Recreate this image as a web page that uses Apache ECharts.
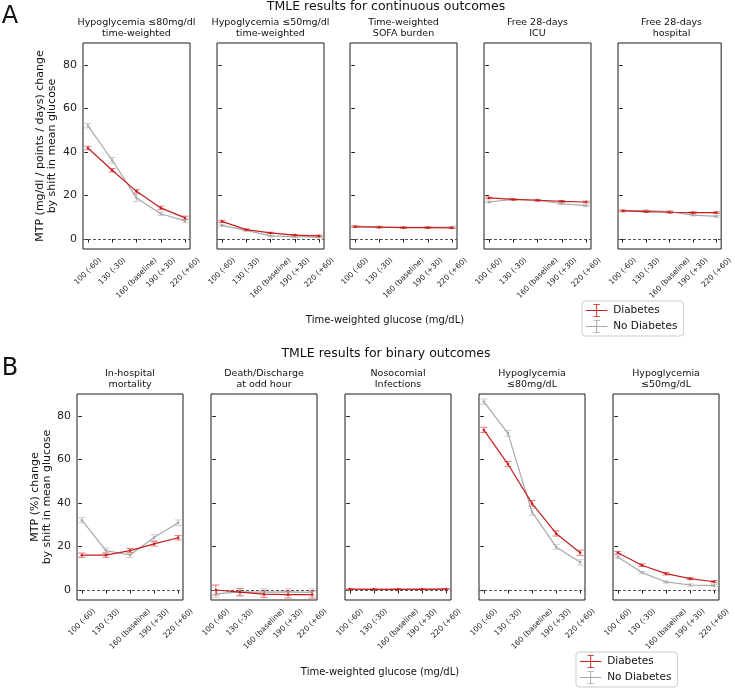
<!DOCTYPE html>
<html>
<head>
<meta charset="utf-8">
<script src="https://cdn.jsdelivr.net/npm/echarts@6/dist/echarts.min.js"></script>
<style>html,body{margin:0;padding:0;background:#fff}#c{width:735px;height:688px}</style>
</head>
<body>
<div id="c"></div>
<script>
// ---------- tick labels / categories ----------
const glucoseLabels = ["100 (-60)", "130 (-30)", "160 (baseline)", "190 (+30)", "220 (+60)"];
const yTicks = [0, 20, 40, 60, 80];

// ---------- panel titles ----------
const contTitles = ["Hypoglycemia \u226480mg/dl\ntime-weighted", "Hypoglycemia \u226450mg/dl\ntime-weighted",
  "Time-weighted\nSOFA burden", "Free 28-days\nICU", "Free 28-days\nhospital"];
const binTitles = ["In-hospital\nmortality", "Death/Discharge\nat odd hour", "Nosocomial\nInfections",
  "Hypoglycemia\n\u226480mg/dL", "Hypoglycemia\n\u226450mg/dL"];

// ---------- A: continuous outcomes (value, CI half-width) ----------
const hypo80tw_diab = [41.8, 31.6, 21.9, 14.3, 9.7];
const hypo80tw_diab_err = [0.8, 0.8, 0.8, 0.8, 0.8];
const hypo80tw_nodiab = [52.1, 36.2, 18.9, 11.6, 8.3];
const hypo80tw_nodiab_err = [1.0, 1.3, 1.6, 0.8, 0.8];

const hypo50tw_diab = [8.1, 4.3, 2.8, 1.8, 1.4];
const hypo50tw_diab_err = [0.5, 0.3, 0.3, 0.3, 0.4];
const hypo50tw_nodiab = [6.3, 4.0, 1.4, 1.1, 0.9];
const hypo50tw_nodiab_err = [0.5, 0.4, 0.4, 0.4, 0.4];

const sofa_diab = [5.6, 5.4, 5.2, 5.2, 5.1];
const sofa_diab_err = [0.3, 0.3, 0.3, 0.3, 0.3];
const sofa_nodiab = [5.9, 5.6, 5.3, 5.4, 5.5];
const sofa_nodiab_err = [0.4, 0.4, 0.4, 0.4, 0.4];

const icu_diab = [18.9, 18.2, 17.8, 17.3, 17.0];
const icu_diab_err = [0.4, 0.4, 0.4, 0.4, 0.4];
const icu_nodiab = [17.0, 18.2, 17.8, 16.2, 15.3];
const icu_nodiab_err = [0.4, 0.4, 0.4, 0.4, 0.4];

const hosp_diab = [12.9, 12.6, 12.3, 12.1, 12.1];
const hosp_diab_err = [0.4, 0.4, 0.4, 0.4, 0.4];
const hosp_nodiab = [13.0, 13.0, 12.6, 11.0, 10.4];
const hosp_nodiab_err = [0.4, 0.4, 0.4, 0.4, 0.4];

// ---------- B: binary outcomes (value, CI half-width) ----------
const mort_diab = [16.0, 16.0, 18.1, 21.2, 24.0];
const mort_diab_err = [1.0, 1.0, 1.0, 1.0, 1.0];
const mort_nodiab = [32.1, 18.1, 16.1, 24.1, 30.9];
const mort_nodiab_err = [1.2, 1.2, 1.2, 1.3, 1.3];

const odd_diab = [0.0, -1.0, -1.9, -2.1, -2.1];
const odd_diab_err = [2.3, 1.7, 1.6, 1.6, 1.6];
const odd_nodiab = [-1.8, -0.9, -1.0, -0.9, -1.1];
const odd_nodiab_err = [1.6, 1.6, 1.6, 1.6, 1.6];

const noso_diab = [0.4, 0.3, 0.3, 0.3, 0.4];
const noso_diab_err = [0.2, 0.2, 0.2, 0.2, 0.2];
const noso_nodiab = [0.3, 0.3, 0.4, 0.4, 0.5];
const noso_nodiab_err = [0.2, 0.2, 0.2, 0.2, 0.2];

const hypo80_diab = [73.6, 57.9, 39.8, 26.0, 17.1];
const hypo80_diab_err = [1.2, 1.2, 1.3, 1.2, 1.2];
const hypo80_nodiab = [86.6, 72.0, 35.9, 19.8, 12.7];
const hypo80_nodiab_err = [1.2, 1.3, 1.5, 1.2, 1.2];

const hypo50_diab = [17.1, 11.4, 7.5, 5.2, 3.8];
const hypo50_diab_err = [0.6, 0.6, 0.6, 0.5, 0.5];
const hypo50_nodiab = [15.2, 8.0, 3.7, 2.3, 2.0];
const hypo50_nodiab_err = [0.6, 0.5, 0.5, 0.5, 0.5];

const panels = [
  [hypo80tw_diab, hypo80tw_diab_err, hypo80tw_nodiab, hypo80tw_nodiab_err],
  [hypo50tw_diab, hypo50tw_diab_err, hypo50tw_nodiab, hypo50tw_nodiab_err],
  [sofa_diab, sofa_diab_err, sofa_nodiab, sofa_nodiab_err],
  [icu_diab, icu_diab_err, icu_nodiab, icu_nodiab_err],
  [hosp_diab, hosp_diab_err, hosp_nodiab, hosp_nodiab_err],
  [mort_diab, mort_diab_err, mort_nodiab, mort_nodiab_err],
  [odd_diab, odd_diab_err, odd_nodiab, odd_nodiab_err],
  [noso_diab, noso_diab_err, noso_nodiab, noso_nodiab_err],
  [hypo80_diab, hypo80_diab_err, hypo80_nodiab, hypo80_nodiab_err],
  [hypo50_diab, hypo50_diab_err, hypo50_nodiab, hypo50_nodiab_err]
];

// ---------- layout ----------
const FONT = "'DejaVu Sans', sans-serif";
const RED = '#c81e1e', RED_ERR = '#e27a7a';
const GRAY = '#a8a8a8', GRAY_ERR = '#cdcdcd';
const topLefts = [83, 217, 350, 484, 618];
const botLefts = [77, 211, 345, 479, 613];
const rowTop = [43, 394];
const panelW = 107, panelH = 206;
const TICK_FS = 7.5;

// rotated tick labels centred under their tick (matplotlib style)
const mctx = document.createElement('canvas').getContext('2d');
mctx.font = TICK_FS + "px 'DejaVu Sans'";
const tickRich = {};
glucoseLabels.forEach((lab, i) => {
  const w = mctx.measureText(lab).width;
  tickRich['r' + i] = {fontSize: TICK_FS, fontFamily: FONT, color: '#222', padding: [w / 2, w / 2, 0, 0]};
});

const chart = echarts.init(document.getElementById('c'), null, {renderer: 'canvas'});

const grids = [], xAxes = [], yAxes = [], series = [];
for (let k = 0; k < 10; k++) {
  const row = k < 5 ? 0 : 1, col = k % 5;
  const left = row === 0 ? topLefts[col] : botLefts[col];
  grids.push({left: left, top: rowTop[row], width: row === 0 ? panelW : panelW - 1, height: panelH,
    show: true, borderColor: '#1a1a1a', borderWidth: 1, backgroundColor: 'transparent'});
  xAxes.push({type: 'value', gridIndex: k, min: -0.2, max: 4.2,
    axisLine: {show: false}, splitLine: {show: false},
    axisTick: {show: true, customValues: [0, 1, 2, 3, 4], length: 3.5, lineStyle: {color: '#1a1a1a'}},
    axisLabel: {show: true, customValues: [0, 1, 2, 3, 4], rotate: 45, margin: 10,
      align: 'center', verticalAlign: 'middle',
      fontSize: TICK_FS, fontFamily: FONT, color: '#222', rich: tickRich,
      formatter: v => { const i = Math.round(v); return '{r' + i + '|' + glucoseLabels[i] + '}'; }}
  });
  yAxes.push({type: 'value', gridIndex: k, min: -4.6, max: 90.1,
    axisLine: {show: false}, splitLine: {show: false},
    axisTick: {show: true, customValues: yTicks, length: 3.5, lineStyle: {color: '#1a1a1a'}},
    axisLabel: {show: col === 0, customValues: yTicks, fontSize: 11, fontFamily: FONT, color: '#222', margin: 6}
  });
  const [dv, de, nv, ne] = panels[k];
  const mk = (vals, errs) => vals.map((v, i) => [i, v - errs[i], v + errs[i]]);
  const errRender = (color) => function (params, api) {
    const x = api.value(0), lo = api.value(1), hi = api.value(2);
    const p1 = api.coord([x, lo]), p2 = api.coord([x, hi]);
    const w = 3.5, st = {stroke: color, lineWidth: 1};
    return {type: 'group', children: [
      {type: 'line', shape: {x1: p1[0], y1: p1[1], x2: p2[0], y2: p2[1]}, style: st},
      {type: 'line', shape: {x1: p1[0] - w, y1: p1[1], x2: p1[0] + w, y2: p1[1]}, style: st},
      {type: 'line', shape: {x1: p2[0] - w, y1: p2[1], x2: p2[0] + w, y2: p2[1]}, style: st}
    ]};
  };
  // zero reference line
  series.push({type: 'line', name: 'zero', xAxisIndex: k, yAxisIndex: k, data: [], silent: true,
    markLine: {silent: true, symbol: ['none', 'none'], label: {show: false},
      lineStyle: {color: '#555', type: [3, 2], width: 1}, data: [{yAxis: 0}]}});
  series.push({type: 'custom', name: 'nd_err', xAxisIndex: k, yAxisIndex: k, data: mk(nv, ne),
    encode: {x: 0, y: [1, 2]}, renderItem: errRender(GRAY_ERR), silent: true, z: 2});
  series.push({type: 'line', name: 'No Diabetes', xAxisIndex: k, yAxisIndex: k,
    data: nv.map((v, i) => [i, v]), symbol: 'circle', symbolSize: 2.5, color: GRAY,
    lineStyle: {color: GRAY, width: 1.2}, itemStyle: {color: GRAY}, z: 3});
  series.push({type: 'custom', name: 'd_err', xAxisIndex: k, yAxisIndex: k, data: mk(dv, de),
    encode: {x: 0, y: [1, 2]}, renderItem: errRender(RED_ERR), silent: true, z: 4});
  series.push({type: 'line', name: 'Diabetes', xAxisIndex: k, yAxisIndex: k,
    data: dv.map((v, i) => [i, v]), symbol: 'circle', symbolSize: 2.5, color: RED,
    lineStyle: {color: RED, width: 1.2}, itemStyle: {color: RED}, z: 5});
}

const graphics = [];
const txt = (x, y, text, size, extra) => Object.assign({type: 'text', x: x, y: y,
  style: Object.assign({text: text, font: size + 'px ' + FONT, fill: '#111', align: 'center', verticalAlign: 'middle'}, extra || {})});
graphics.push(txt(10, 17, 'A', 24));
graphics.push(txt(10, 369, 'B', 24));
graphics.push(txt(386, 7, 'TMLE results for continuous outcomes', 12.5));
graphics.push(txt(386, 354, 'TMLE results for binary outcomes', 12.5));
for (let c = 0; c < 5; c++) {
  graphics.push(txt(topLefts[c] + panelW / 2, 28, contTitles[c], 9.5, {lineHeight: 10.5}));
  graphics.push(txt(botLefts[c] + (panelW - 1) / 2, 379, binTitles[c], 9.5, {lineHeight: 10.5}));
}
const ylab1 = txt(46, 146, 'MTP (mg/dl / points / days) change\nby shift in mean glucose', 11, {lineHeight: 12});
ylab1.rotation = Math.PI / 2;
const ylab2 = txt(41, 497, 'MTP (%) change\nby shift in mean glucose', 11, {lineHeight: 12});
ylab2.rotation = Math.PI / 2;
graphics.push(ylab1, ylab2);
graphics.push(txt(385, 320, 'Time-weighted glucose (mg/dL)', 10));
graphics.push(txt(380, 672, 'Time-weighted glucose (mg/dL)', 10));

const legendIcon = 'path://M0,13h46v2h-46z M22,0h2v28h-2z M16,0h14v1.6h-14z M16,26.4h14v1.6h-14z';
const legendBase = {orient: 'vertical', data: [{name: 'Diabetes', icon: legendIcon}, {name: 'No Diabetes', icon: legendIcon}],
  itemWidth: 23, itemHeight: 13, itemGap: 3, padding: [3, 6, 3, 4],
  borderColor: '#cccccc', borderWidth: 1, borderRadius: 3, backgroundColor: '#fff',
  textStyle: {fontSize: 10.5, fontFamily: FONT, color: '#111'}, selectedMode: false};

chart.setOption({
  animation: false,
  grid: grids, xAxis: xAxes, yAxis: yAxes, series: series,
  legend: [Object.assign({left: 582, top: 301}, legendBase), Object.assign({left: 576, top: 652, height: 40}, legendBase)],
  graphic: graphics
});
</script>
</body>
</html>
